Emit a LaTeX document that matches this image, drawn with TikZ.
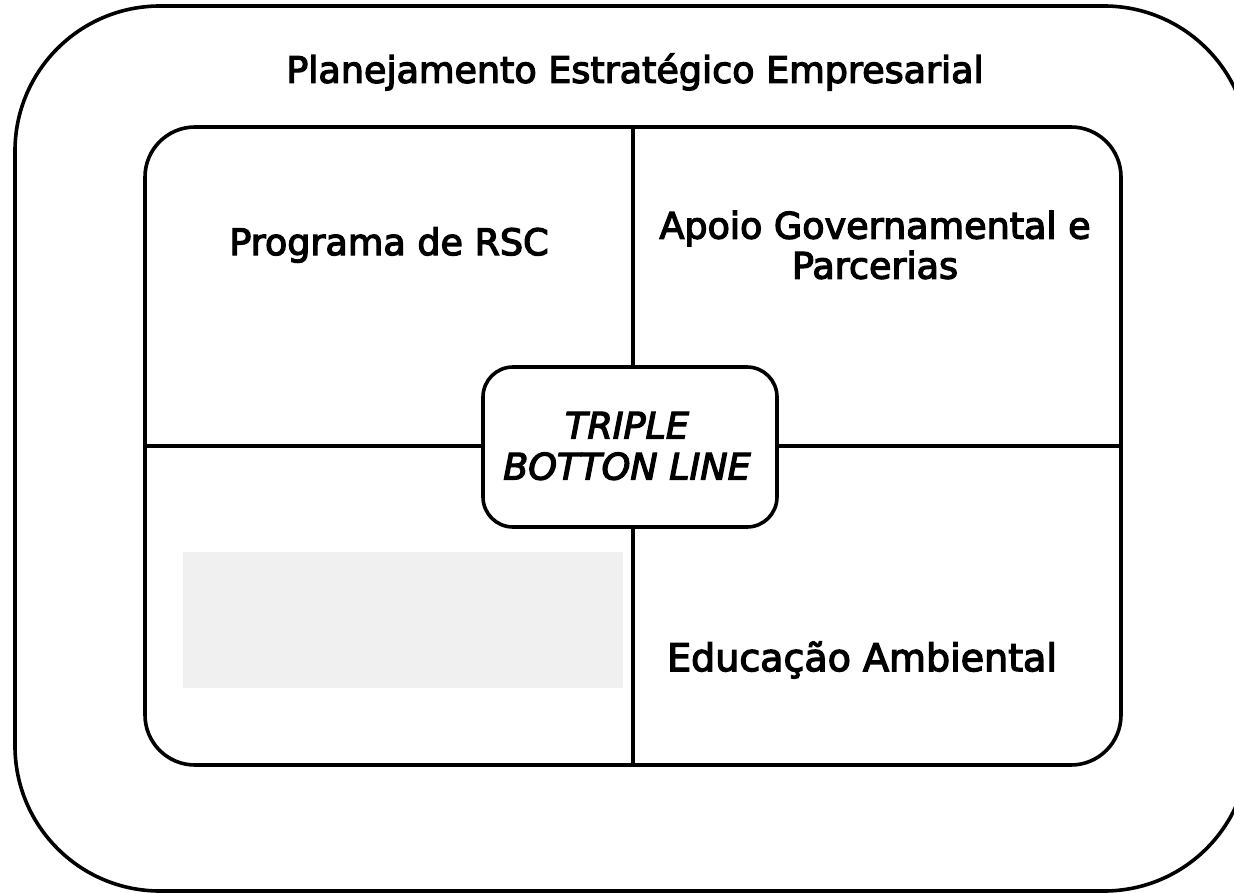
\documentclass[tikz,border=0pt]{standalone}
\usepackage{fontspec}
\newfontface\heavy{DejaVu Sans}[FakeBold=3.5]
\newfontface\heavyit{DejaVu Sans Oblique}[FakeBold=3.5]
\begin{document}
\begin{tikzpicture}[x=1pt,y=-1pt,
  frame/.style={draw=black, line width=3.6pt, rounded corners=#1},
  label/.style={font=\heavy\fontsize{36.5}{40}\selectfont, align=center, inner sep=0pt},
  ital/.style={font=\heavyit\fontsize{36.5}{41}\selectfont, align=center, inner sep=0pt}]
\useasboundingbox (0,0) rectangle (1234,894);
\fill[white] (0,0) rectangle (1234,894);
% outer frame
\node[frame=145pt, minimum width=1234pt, minimum height=885pt, inner sep=0pt] (outer) at (632,448.5) {};
% inner frame
\node[frame=50pt, minimum width=976pt, minimum height=638pt, inner sep=0pt] (inner) at (633,446) {};
% gray placeholder
\node[fill={rgb,255:red,240;green,240;blue,240}, minimum width=440pt, minimum height=136pt, inner sep=0pt] (gray) at (403,620) {};
% centre box
\node[frame=30pt, fill=white, minimum width=294pt, minimum height=160pt, inner sep=0pt] (tbl) at (630,447) {};
% dividers
\draw[line width=3.6pt] (inner.north) -- (inner.north |- tbl.north);
\draw[line width=3.6pt] (inner.south) -- (inner.south |- tbl.south);
\draw[line width=3.6pt] (inner.west) -- (inner.west -| tbl.west);
\draw[line width=3.6pt] (inner.east) -- (inner.east -| tbl.east);
% texts
\node[label] (title) at (635,72) {Planejamento Estratégico Empresarial};
\node[label] (rsc) at (389,245) {Programa de RSC};
\node[label] (apoio) at (875,245) {Apoio Governamental e\\Parcerias};
\node[label, font=\heavy\fontsize{38}{42}\selectfont] (edu) at (862,660) {Educação Ambiental};
\node[ital] (tbltext) at (627,446) {TRIPLE\\BOTTON LINE};
\end{tikzpicture}
\end{document}
